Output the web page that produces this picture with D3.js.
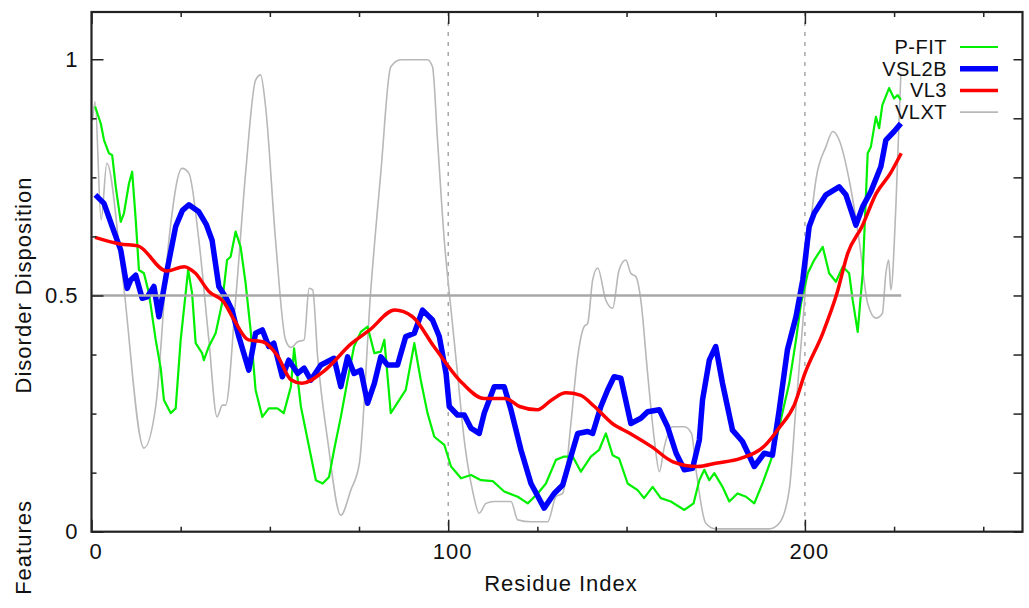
<!DOCTYPE html>
<html>
<head>
<meta charset="utf-8">
<script src="https://cdn.jsdelivr.net/npm/d3@7"></script>
<style>
  body { margin: 0; background: #fff; }
  svg text { font-family: "Liberation Sans", Arial, sans-serif; fill: #111; }
</style>
</head>
<body>
<script>
// disorder predictions, [residue, score]
var pfit = [[1,0.9],[2.6,0.864],[3.5,0.829],[4.9,0.801],[5.8,0.797],[6.8,0.73],[8.2,0.656],[9.1,0.674],[10.5,0.737],[11.4,0.762],[12.4,0.66],[13.3,0.554],[14.7,0.547],[16.1,0.505],[18,0.406],[19.4,0.346],[20.3,0.279],[22.2,0.251],[23.6,0.261],[25,0.406],[27.1,0.554],[28.2,0.505],[29.2,0.399],[31,0.378],[31.5,0.363],[32.9,0.392],[34.8,0.42],[36.6,0.483],[38,0.575],[39,0.582],[40.4,0.635],[41.8,0.603],[43.2,0.526],[44.6,0.427],[46,0.3],[47.9,0.243],[49.7,0.261],[52.1,0.261],[53.9,0.251],[55.9,0.307],[56.8,0.388],[58.7,0.265],[60.6,0.194],[62.9,0.109],[64.8,0.102],[66.6,0.116],[68,0.173],[69.9,0.243],[71.8,0.321],[73.6,0.392],[75.5,0.423],[77.4,0.434],[79.3,0.378],[81.1,0.381],[82.1,0.406],[83.9,0.251],[86.3,0.279],[88.1,0.3],[90.5,0.399],[92.3,0.321],[94.2,0.251],[96.1,0.201],[98.9,0.184],[100.8,0.138],[103.6,0.113],[106.4,0.12],[109.2,0.109],[112.5,0.107],[115.7,0.085],[119.5,0.074],[122.3,0.06],[125.1,0.081],[127.4,0.102],[130.2,0.152],[132.5,0.159],[134.9,0.159],[137.2,0.127],[140,0.159],[142.3,0.173],[144.2,0.208],[146.1,0.162],[147.9,0.155],[150.3,0.102],[153.1,0.088],[154.9,0.071],[157.3,0.095],[159.6,0.071],[162.4,0.064],[166.2,0.046],[168.8,0.06],[170.4,0.109],[171.8,0.131],[173.2,0.109],[174.6,0.124],[176.9,0.095],[178.8,0.064],[181.1,0.081],[183.5,0.074],[185.8,0.06],[188.1,0.102],[190.5,0.152],[192.8,0.222],[195.6,0.314],[197.5,0.406],[198.9,0.483],[200.8,0.547],[202.6,0.575],[205,0.603],[206.8,0.547],[208.7,0.529],[210.6,0.561],[212.4,0.547],[213.4,0.49],[214.8,0.423],[216.2,0.547],[217.6,0.801],[218.5,0.815],[219.9,0.878],[220.8,0.854],[221.7,0.903],[223.6,0.939],[225,0.917],[226,0.924],[226.9,0.914]];

var vsl2b = [[1.1,0.713],[3.5,0.695],[5.8,0.646],[8.2,0.596],[10,0.515],[11,0.533],[12.4,0.543],[14.2,0.494],[15.6,0.497],[17.5,0.519],[18.9,0.455],[21.2,0.554],[23.6,0.646],[25.5,0.68],[27.3,0.692],[30.1,0.677],[32.2,0.65],[33.8,0.617],[35.7,0.519],[37.6,0.497],[39.4,0.469],[41.3,0.413],[44.1,0.342],[46,0.42],[47.9,0.427],[49.7,0.392],[51.1,0.399],[53.5,0.328],[55.3,0.363],[57.8,0.335],[59.6,0.346],[61.5,0.321],[64.3,0.353],[68,0.367],[69.9,0.307],[71.8,0.37],[73.6,0.335],[75.5,0.342],[77.4,0.272],[79.3,0.314],[81.1,0.37],[83,0.353],[85.8,0.353],[88.1,0.413],[90.5,0.42],[92.8,0.469],[95.6,0.448],[97.5,0.413],[99.4,0.335],[100.3,0.265],[102.6,0.247],[104.5,0.247],[106.4,0.219],[108.7,0.208],[110.1,0.251],[112.9,0.307],[115.7,0.307],[117.6,0.258],[120.4,0.173],[123.2,0.102],[126.9,0.05],[129.7,0.081],[132.1,0.099],[134.4,0.159],[136.3,0.208],[139.1,0.212],[140.5,0.208],[142.8,0.265],[144.7,0.3],[146.5,0.328],[148.4,0.325],[151.2,0.229],[154,0.24],[155.9,0.254],[159.2,0.258],[161.5,0.222],[163.9,0.166],[166.2,0.131],[168.5,0.134],[170.4,0.194],[171.3,0.279],[173.2,0.363],[175,0.392],[176.9,0.314],[179.7,0.215],[182.5,0.191],[185.8,0.138],[188.6,0.166],[190.9,0.162],[192.8,0.258],[195.1,0.385],[197.5,0.455],[199.4,0.533],[201.2,0.646],[202.6,0.674],[205.9,0.713],[209.6,0.73],[211.5,0.713],[214.3,0.649],[216.2,0.688],[218.5,0.72],[221.3,0.773],[222.7,0.829],[225,0.847],[226.9,0.864]];

var vl3 = [[1,0.623],[8,0.609],[13,0.605],[21,0.552],[26,0.561],[29,0.548],[33,0.508],[37,0.487],[40,0.448],[44,0.406],[48,0.402],[52,0.374],[56,0.321],[59,0.314],[65,0.339],[73,0.399],[78,0.427],[85,0.469],[90,0.455],[96,0.392],[104,0.314],[110,0.282],[116,0.282],[120,0.265],[125,0.258],[129,0.279],[133,0.294],[137,0.289],[141,0.265],[146,0.229],[151,0.208],[157,0.18],[163,0.148],[170,0.138],[175,0.145],[182,0.155],[189,0.184],[193,0.222],[197,0.268],[200,0.335],[205,0.42],[209,0.505],[212,0.589],[216,0.646],[220,0.716],[224,0.759],[227,0.801]];

var vlxt = [[0.3,0.87],[1,0.91],[2.7,0.66],[4.3,0.78],[8.6,0.547],[14.7,0.177],[18,0.265],[21.7,0.617],[25.4,0.769],[27.3,0.759],[30.1,0.617],[32.9,0.406],[35.2,0.243],[36.7,0.268],[37.6,0.268],[40.4,0.49],[43.2,0.759],[46,0.956],[47.4,0.967],[48.8,0.9],[51.6,0.617],[54.4,0.406],[55.9,0.39],[57.8,0.402],[59.6,0.406],[61,0.515],[62,0.512],[63.4,0.37],[66.2,0.194],[69.9,0.035],[72.7,0.088],[75.1,0.145],[78.3,0.512],[81.1,0.759],[83.9,0.984],[86.7,0.999],[94.2,0.999],[95.6,0.984],[97,0.829],[98.9,0.617],[100.8,0.469],[102.6,0.335],[104.5,0.194],[106.8,0.088],[108.7,0.039],[110.6,0.06],[112.9,0.064],[117.6,0.064],[119.5,0.025],[123.2,0.021],[127.9,0.021],[130.2,0.074],[132.1,0.081],[134.4,0.229],[136.3,0.37],[138.1,0.434],[139.1,0.441],[140.5,0.533],[141.9,0.558],[144.2,0.49],[146.1,0.473],[147.9,0.554],[149.8,0.575],[151.2,0.547],[152.6,0.54],[154,0.49],[155.9,0.335],[157.8,0.194],[159.2,0.127],[160.6,0.18],[162.9,0.222],[166.2,0.222],[168.2,0.208],[169.6,0.124],[172.2,0.018],[175,0.006],[190,0.006],[192.8,0.018],[195.6,0.088],[197.5,0.265],[199.4,0.441],[201.2,0.617],[203.1,0.745],[205.9,0.815],[207.8,0.847],[209.6,0.829],[212.4,0.745],[215.2,0.617],[217.6,0.483],[219.9,0.452],[221.7,0.462],[222.7,0.547],[223.5,0.575],[224.1,0.512],[225.5,0.688],[226.9,0.97]];

var seqLength = 227;
var xMajor = [0, 100, 200];
var xMinor = [25, 50, 75, 125, 150, 175, 225, 250];
var yMajor = [0, 0.5, 1];
var yMinor = [0.125, 0.25, 0.375, 0.625, 0.75, 0.875];
var dashedAt = [100, 200];

var series = [
  { name: 'VLXT', data: vlxt, color: '#b8b8b8', width: 1.6, curve: d3.curveMonotoneX },
  { name: 'P-FIT', data: pfit, color: '#00f000', width: 2.2, curve: d3.curveLinear },
  { name: 'VSL2B', data: vsl2b, color: '#0000ff', width: 5.5, curve: d3.curveLinear },
  { name: 'VL3', data: vl3, color: '#ff0000', width: 3.5, curve: d3.curveMonotoneX }
];
var legendOrder = ['P-FIT', 'VSL2B', 'VL3', 'VLXT'];

var W = 1029, H = 608;
var plotL = 91.5, plotR = 1022.5, plotT = 12, plotB = 531.7;

var svg = d3.select('body').append('svg').attr('width', W).attr('height', H);

var x = d3.scaleLinear().domain([0, 261]).range([plotL, plotR]);
var y = d3.scaleLinear().domain([0, 1.1]).range([plotB, plotT]);

// dashed guides
svg.selectAll('.guide').data(dashedAt).enter().append('line')
  .attr('x1', d => x(d)).attr('x2', d => x(d))
  .attr('y1', plotT).attr('y2', plotB)
  .attr('stroke', '#999').attr('stroke-width', 1.3).attr('stroke-dasharray', '4,6');

var line = function(s) {
  return d3.line().x(d => x(d[0])).y(d => y(d[1])).curve(s.curve)(s.data);
};

series.forEach(function(s, i) {
  if (s.name === 'VL3') {
    // threshold line sits under the VL3 curve
    svg.append('line')
      .attr('x1', x(0)).attr('x2', x(seqLength))
      .attr('y1', y(0.5)).attr('y2', y(0.5))
      .attr('stroke', '#a8a8a8').attr('stroke-width', 2.5);
  }
  svg.append('path').attr('d', line(s))
    .attr('fill', 'none').attr('stroke', s.color).attr('stroke-width', s.width)
    .attr('stroke-linejoin', 'round');
});

// axes, ticks point inward
var styleAxis = function(g) {
  g.select('.domain').remove();
  g.selectAll('.tick line').attr('stroke', '#222').attr('stroke-width', 1.5);
  g.selectAll('text').attr('font-size', 22).attr('fill', '#111')
    .style('font-family', '"Liberation Sans", Arial, sans-serif').style('letter-spacing', '1px');
};
var fmt = d => String(d);

svg.append('g').attr('transform', 'translate(0,' + plotB + ')')
  .call(d3.axisBottom(x).tickValues(xMajor).tickSize(-12).tickPadding(12).tickFormat(fmt)).call(styleAxis)
  .selectAll('text').attr('dx', 4);
svg.append('g').attr('transform', 'translate(0,' + plotB + ')')
  .call(d3.axisBottom(x).tickValues(xMinor).tickSize(-5).tickFormat('')).call(styleAxis);
svg.append('g').attr('transform', 'translate(0,' + plotT + ')')
  .call(d3.axisTop(x).tickValues(xMajor).tickSize(-12).tickFormat('')).call(styleAxis);
svg.append('g').attr('transform', 'translate(0,' + plotT + ')')
  .call(d3.axisTop(x).tickValues(xMinor).tickSize(-5).tickFormat('')).call(styleAxis);

svg.append('g').attr('transform', 'translate(' + plotL + ',0)')
  .call(d3.axisLeft(y).tickValues(yMajor).tickSize(-12).tickPadding(13).tickFormat(fmt)).call(styleAxis);
svg.append('g').attr('transform', 'translate(' + plotL + ',0)')
  .call(d3.axisLeft(y).tickValues(yMinor).tickSize(-5).tickFormat('')).call(styleAxis);
svg.append('g').attr('transform', 'translate(' + plotR + ',0)')
  .call(d3.axisRight(y).tickValues(yMajor).tickSize(-9).tickFormat('')).call(styleAxis);
svg.append('g').attr('transform', 'translate(' + plotR + ',0)')
  .call(d3.axisRight(y).tickValues(yMinor).tickSize(-9).tickFormat('')).call(styleAxis);

// frame
svg.append('rect')
  .attr('x', plotL).attr('y', plotT).attr('width', plotR - plotL).attr('height', plotB - plotT)
  .attr('fill', 'none').attr('stroke', '#222').attr('stroke-width', 2.2);

// labels
svg.append('text').attr('x', (plotL + plotR) / 2 + 4).attr('y', 591)
  .attr('text-anchor', 'middle').attr('font-size', 22).style('letter-spacing', '1px')
  .text('Residue Index');
svg.append('text').attr('transform', 'translate(31,285) rotate(-90)')
  .attr('text-anchor', 'middle').attr('font-size', 22).style('letter-spacing', '1px')
  .text('Disorder Disposition');
svg.append('text').attr('transform', 'translate(31,500) rotate(-90)')
  .attr('text-anchor', 'end').attr('font-size', 22).style('letter-spacing', '1px')
  .text('Features');

// legend
var legend = svg.append('g');
legendOrder.forEach(function(name, i) {
  var s = series.find(d => d.name === name);
  var ly = 47 + i * 21.7;
  legend.append('text').attr('x', 947).attr('y', ly).attr('dy', '0.35em')
    .attr('text-anchor', 'end').attr('font-size', 20).style('letter-spacing', '0.5px')
    .attr('fill', '#222').text(name);
  legend.append('line').attr('x1', 960).attr('x2', 998).attr('y1', ly).attr('y2', ly)
    .attr('stroke', s.color).attr('stroke-width', s.width);
});
</script>
</body>
</html>
